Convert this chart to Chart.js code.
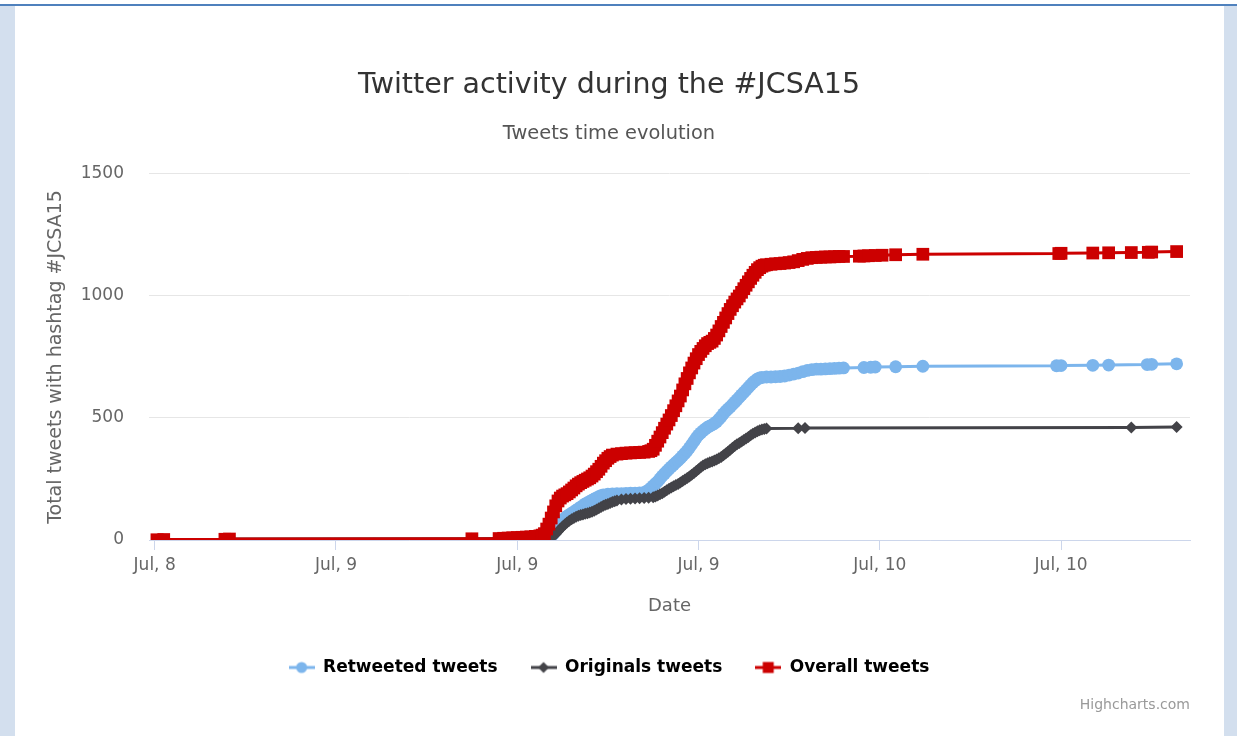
<!DOCTYPE html>
<html>
<head>
<meta charset="utf-8">
<title>Twitter activity during the #JCSA15</title>
<script src="https://cdn.jsdelivr.net/npm/chart.js@4.4.0/dist/chart.umd.min.js"></script>
<style>
  html, body { margin: 0; padding: 0; }
  body { width: 1237px; height: 736px; background: #d3dfee; position: relative; overflow: hidden; }
  #topStrip { position: absolute; left: 0; top: 0; width: 1237px; height: 4px; background: #ffffff; }
  #topBar { position: absolute; left: 0; top: 4px; width: 1237px; height: 2px; background: #4f81bd; }
  #panel { position: absolute; left: 15px; top: 6px; width: 1209px; height: 730px; background: #ffffff; }
  #chartBox { position: absolute; left: 28px; top: 6px; width: 1195px; height: 730px; }
</style>
</head>
<body>
<div id="topStrip"></div>
<div id="topBar"></div>
<div id="panel"></div>
<div id="chartBox"><canvas id="tweetsChart"></canvas></div>
<script>
// x values are hours counted from Jul 8, 00:00
const xTickHours = [16, 24, 32, 40, 48, 56];
const xTickLabels = ['Jul, 8', 'Jul, 9', 'Jul, 9', 'Jul, 9', 'Jul, 10', 'Jul, 10'];
const yTickValues = [0, 500, 1000, 1500];

const retweetHours = [32.0, 32.4, 32.8, 33.2,
  33.4, 33.5, 33.6, 33.7, 33.8, 33.9, 34.0, 34.1, 34.2, 34.3, 34.4, 34.5, 34.6, 34.7,
  34.8, 34.9, 35.0, 35.1, 35.2, 35.3, 35.4, 35.5, 35.6, 35.7, 35.8,
  36.0, 36.2, 36.4, 36.6, 36.8, 37.0, 37.2, 37.4,
  37.6, 37.7, 37.8, 37.9, 38.0, 38.1, 38.2, 38.3, 38.4, 38.5, 38.6, 38.7, 38.8, 38.9,
  39.0, 39.1, 39.2, 39.3, 39.4, 39.5, 39.6, 39.7, 39.8, 39.9, 40.0, 40.1, 40.2, 40.3,
  40.4, 40.5, 40.6, 40.7, 40.8, 40.9, 41.0, 41.1, 41.2, 41.3, 41.4, 41.5, 41.6, 41.7,
  41.8, 41.9, 42.0, 42.1, 42.2, 42.3, 42.4, 42.5, 42.6, 42.7, 42.8,
  43.0, 43.2, 43.4, 43.6, 43.8, 44.0, 44.2, 44.4, 44.6, 44.8, 45.0, 45.2,
  45.4, 45.6, 45.8, 46.0, 46.2, 46.4,
  47.3, 47.6, 47.8, 48.7, 49.9, 55.8, 56.0, 57.4, 58.1, 59.8, 60.0, 61.1];
const retweetCounts = [1, 2, 3, 5,
  10, 16, 25, 37, 50, 65, 80, 90, 98, 104, 110, 116, 122, 128,
  135, 141, 148, 153, 158, 163, 168, 173, 178, 182, 185,
  188, 189, 190, 190, 191, 192, 192, 193,
  195, 199, 205, 213, 222, 231, 240, 251, 262, 272, 282, 291, 300, 309,
  318, 326, 335, 345, 355, 366, 378, 391, 405, 418, 430, 439, 448, 455,
  462, 467, 472, 478, 485, 495, 505, 517, 528, 537, 545, 555, 565, 575,
  585, 595, 605, 615, 625, 635, 645, 653, 660, 664, 666,
  668, 668, 669, 670, 672, 676, 680, 684, 690, 695, 698, 700,
  700, 701, 702, 703, 704, 705,
  707, 708, 709, 710, 712, 714, 715, 716, 717, 719, 720, 722];

const originalHours = [16.1, 16.4, 19.1, 19.3, 30.0, 31.2, 31.6, 32.0, 32.4, 32.8, 33.2, 33.4,
  33.6, 33.7, 33.8, 33.9, 34.0, 34.1, 34.2, 34.3, 34.4, 34.5, 34.6, 34.7, 34.8, 34.9,
  35.0, 35.1, 35.2, 35.3, 35.4, 35.5, 35.6, 35.7, 35.8, 35.9, 36.0, 36.1, 36.2, 36.3, 36.4,
  36.6, 36.8, 37.0, 37.2, 37.4, 37.6, 37.8,
  38.0, 38.1, 38.2, 38.3, 38.4, 38.5, 38.6, 38.7, 38.8, 38.9, 39.0, 39.1, 39.2, 39.3,
  39.4, 39.5, 39.6, 39.7, 39.8, 39.9, 40.0, 40.1, 40.2, 40.3, 40.4, 40.5, 40.6, 40.7,
  40.8, 40.9, 41.0, 41.1, 41.2, 41.3, 41.4, 41.5, 41.6, 41.7, 41.8, 41.9, 42.0, 42.1,
  42.2, 42.3, 42.4, 42.5, 42.6, 42.7, 42.8, 42.9, 43.0,
  44.4, 44.7, 59.1, 61.1];
const originalCounts = [1, 2, 3, 4, 5, 6, 7, 8, 9, 10, 12, 14,
  18, 25, 35, 45, 55, 64, 72, 79, 85, 90, 95, 99, 102, 105,
  108, 110, 113, 116, 120, 125, 130, 135, 140, 144, 148, 152, 156, 159, 162,
  166, 168, 169, 170, 171, 172, 173,
  175, 178, 182, 187, 192, 198, 204, 210, 215, 220, 225, 230, 236, 242,
  248, 254, 260, 267, 275, 283, 290, 298, 305, 310, 315, 319, 322, 326,
  330, 335, 340, 347, 355, 362, 370, 378, 385, 392, 398, 404, 410, 416,
  422, 429, 435, 441, 446, 450, 453, 455, 457,
  458, 459, 461, 463];

const overallHours = [16.1, 16.4, 19.1, 19.3, 30.0,
  31.2, 31.4, 31.6, 31.8, 32.0, 32.2, 32.4, 32.6, 32.8, 33.0,
  33.1, 33.2, 33.3, 33.4, 33.5, 33.6, 33.7, 33.8, 33.9, 34.0, 34.1, 34.2, 34.3, 34.4,
  34.5, 34.6, 34.7, 34.8, 34.9, 35.0, 35.1, 35.2, 35.3, 35.4, 35.5, 35.6, 35.7, 35.8,
  35.9, 36.0, 36.1, 36.2,
  36.4, 36.6, 36.8, 37.0, 37.2, 37.4, 37.6,
  37.8, 37.9, 38.0, 38.1, 38.2, 38.3, 38.4, 38.5, 38.6, 38.7, 38.8, 38.9, 39.0, 39.1,
  39.2, 39.3, 39.4, 39.5, 39.6, 39.7, 39.8, 39.9, 40.0, 40.1, 40.2, 40.3, 40.4, 40.5,
  40.6, 40.7, 40.8, 40.9, 41.0, 41.1, 41.2, 41.3, 41.4, 41.5, 41.6, 41.7, 41.8, 41.9,
  42.0, 42.1, 42.2, 42.3, 42.4, 42.5, 42.6, 42.7, 42.8, 42.9, 43.0,
  43.2, 43.4, 43.6, 43.8, 44.0, 44.2, 44.4, 44.6, 44.8, 45.0, 45.2, 45.4, 45.6, 45.8,
  46.0, 46.2, 46.4,
  47.1, 47.3, 47.5, 47.8, 48.1, 48.7, 49.9, 55.9, 56.0, 57.4, 58.1, 59.1, 59.85, 60.0, 61.1];
const overallCounts = [1, 2, 3, 4, 5,
  6, 7, 8, 9, 10, 11, 12, 13, 15, 17,
  20, 26, 45, 65, 90, 115, 140, 160, 172, 180, 185, 190, 197, 205,
  213, 222, 229, 235, 240, 245, 250, 255, 262, 270, 280, 290, 302, 315,
  325, 335, 342, 348,
  352, 354, 356, 357, 358, 359, 360,
  363, 366, 372, 388, 405, 422, 440, 458, 475, 492, 510, 530, 550, 570,
  590, 615, 640, 662, 685, 705, 725, 743, 760, 773, 785, 796, 805, 810,
  815, 826, 840, 857, 875, 892, 910, 928, 945, 960, 975, 988, 1000, 1015,
  1030, 1044, 1058, 1072, 1085, 1097, 1108, 1116, 1122, 1126, 1128,
  1130, 1132, 1133, 1135, 1137, 1140, 1145, 1150, 1154, 1157, 1158, 1159, 1160, 1160,
  1161, 1162, 1162,
  1163, 1164, 1165, 1166, 1167, 1169, 1171, 1174, 1175, 1176, 1177, 1178, 1179, 1180, 1182];

const seriesNames = ['Retweeted tweets', 'Originals tweets', 'Overall tweets'];
const seriesColors = ['#7cb5ec', '#434348', '#cc0000'];
const seriesMarkers = ['circle', 'rectRot', 'rect'];
const seriesRadius = [6.4, 6, 9];

const labelFont = 'DejaVu Sans';

function toPoints(hours, counts) {
  return hours.map((h, i) => ({ x: h, y: counts[i] }));
}

// small line + marker swatch used as the legend symbol
function legendSymbol(color, marker) {
  const c = document.createElement('canvas');
  c.width = 26;
  c.height = 14;
  const g = c.getContext('2d');
  g.strokeStyle = color;
  g.lineWidth = 3;
  g.beginPath();
  g.moveTo(0, 7);
  g.lineTo(26, 7);
  g.stroke();
  g.fillStyle = color;
  g.beginPath();
  if (marker === 'circle') {
    g.arc(13, 7, 5.5, 0, Math.PI * 2);
  } else if (marker === 'rectRot') {
    g.moveTo(13, 1.5); g.lineTo(18.5, 7); g.lineTo(13, 12.5); g.lineTo(7.5, 7); g.closePath();
  } else {
    g.rect(7.5, 1.5, 11, 11);
  }
  g.fill();
  return c;
}

const creditsText = {
  id: 'creditsText',
  afterDraw(chart) {
    const ctx = chart.ctx;
    ctx.save();
    ctx.font = '14px "' + labelFont + '"';
    ctx.fillStyle = '#999999';
    ctx.textAlign = 'right';
    ctx.textBaseline = 'middle';
    ctx.fillText('Highcharts.com', chart.chartArea.right, 699);
    ctx.restore();
  }
};

const seriesData = [
  toPoints(retweetHours, retweetCounts),
  toPoints(originalHours, originalCounts),
  toPoints(overallHours, overallCounts)
];

const datasets = seriesNames.map((name, i) => ({
  label: name,
  data: seriesData[i],
  borderColor: seriesColors[i],
  backgroundColor: seriesColors[i],
  borderWidth: 3,
  tension: 0,
  pointStyle: seriesMarkers[i],
  pointRadius: seriesRadius[i],
  pointBackgroundColor: seriesColors[i],
  pointBorderWidth: 0,
  pointHoverRadius: seriesRadius[i],
  order: 3 - i
}));

new Chart(document.getElementById('tweetsChart'), {
  type: 'line',
  data: { datasets: datasets },
  options: {
    responsive: true,
    maintainAspectRatio: false,
    animation: false,
    layout: { padding: { left: 0, right: 33, top: 0, bottom: 50 } },
    plugins: {
      title: {
        display: true,
        text: 'Twitter activity during the #JCSA15',
        color: '#333333',
        font: { family: labelFont, size: 28.5, weight: 'normal' },
        padding: { top: 62, bottom: 0 }
      },
      subtitle: {
        display: true,
        text: 'Tweets time evolution',
        color: '#555555',
        font: { family: labelFont, size: 19.4, weight: 'normal' },
        padding: { top: 20.2, bottom: 28.3 }
      },
      legend: {
        position: 'bottom',
        labels: {
          usePointStyle: true,
          pointStyleWidth: 26,
          padding: 33,
          color: '#333333',
          font: { family: labelFont, size: 17, weight: 'bold' },
          generateLabels: chart => chart.data.datasets.map((ds, i) => ({
            text: ds.label,
            pointStyle: legendSymbol(seriesColors[i], seriesMarkers[i]),
            fillStyle: seriesColors[i],
            strokeStyle: seriesColors[i],
            lineWidth: 0,
            hidden: false,
            datasetIndex: i
          }))
        }
      },
      tooltip: { enabled: false }
    },
    scales: {
      x: {
        type: 'linear',
        min: 15.75,
        max: 61.69,
        afterBuildTicks: axis => { axis.ticks = xTickHours.map(v => ({ value: v })); },
        afterFit: axis => { axis.height = 86; },
        ticks: {
          autoSkip: false,
          maxRotation: 0,
          padding: 5,
          color: '#666666',
          font: { family: labelFont, size: 17 },
          callback: (v, i) => xTickLabels[i]
        },
        grid: { drawOnChartArea: false, drawTicks: true, tickLength: 10, color: '#ccd6eb' },
        border: { display: true, color: '#ccd6eb', width: 1 },
        title: {
          display: true,
          text: 'Date',
          color: '#666666',
          font: { family: labelFont, size: 18 },
          padding: { top: 0, bottom: 9 }
        }
      },
      y: {
        min: 0,
        max: 1500,
        afterBuildTicks: axis => { axis.ticks = yTickValues.map(v => ({ value: v })); },
        afterFit: axis => { axis.width = 121; },
        ticks: {
          padding: 25,
          color: '#666666',
          font: { family: labelFont, size: 17 },
          callback: v => String(v)
        },
        grid: { color: '#e6e6e6', drawTicks: false, lineWidth: 1 },
        border: { display: false },
        title: {
          display: true,
          text: 'Total tweets with hashtag #JCSA15',
          color: '#666666',
          font: { family: labelFont, size: 19 },
          padding: { top: 16.6, bottom: 0 }
        }
      }
    }
  },
  plugins: [creditsText]
});
</script>
</body>
</html>
